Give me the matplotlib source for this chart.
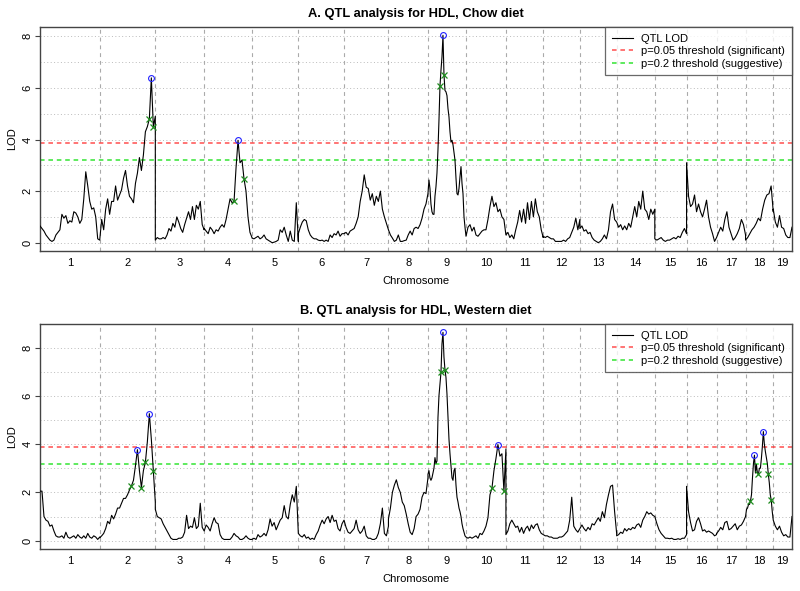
import numpy as np
import matplotlib
matplotlib.use("Agg")
import matplotlib.pyplot as plt
from matplotlib.lines import Line2D

plt.rcParams['font.family'] = ['Liberation Sans', 'DejaVu Sans']

# ---------------- data ----------------
chrom_names = [str(i) for i in range(1, 20)]
chrom_len_mb = [195.5, 182.1, 160.0, 156.5, 151.8, 149.7, 145.4, 129.4, 124.6,
                130.7, 122.1, 120.1, 120.4, 124.9, 104.0, 98.2, 95.0, 90.7, 61.4]

# LOD profile, chow diet (evenly spaced loci along each chromosome)
chow_01 = [0.65, 0.55, 0.45, 0.3, 0.2, 0.1, 0.05, 0.1, 0.3, 0.4, 0.5, 1.1, 0.95, 1.05, 0.75, 0.85,
           0.8, 1.2, 1.15, 1.0, 0.75, 0.9, 1.7, 2.75, 2.2, 1.6, 1.3, 1.35, 1.0, 0.15, 0.1]
chow_02 = [0.1, 0.9, 0.5, 1.3, 1.7, 1.1, 1.6, 1.6, 2.2, 1.65, 1.85, 2.05, 2.5, 2.8, 2.2, 1.8,
           1.7, 1.55, 2.3, 2.7, 3.3, 2.8, 3.4, 4.3, 4.5, 4.8, 6.39, 4.5, 4.9]
chow_03 = [0.1, 0.2, 0.15, 0.15, 0.2, 0.15, 0.3, 0.55, 0.45, 0.75, 0.6, 1.0, 0.8, 0.55, 0.4, 0.7,
           0.95, 1.2, 0.9, 1.4, 0.9, 1.45, 1.3, 1.6, 0.7, 0.5]
chow_04 = [0.55, 0.45, 0.35, 0.6, 0.5, 0.35, 0.5, 0.45, 0.6, 0.7, 0.6, 0.9, 1.3, 1.7, 1.55, 1.6,
           2.9, 3.97, 3.1, 3.2, 2.48, 2.0, 1.0, 0.4, 0.2]
chow_05 = [0.18, 0.15, 0.2, 0.25, 0.15, 0.2, 0.3, 0.15, 0.1, 0.05, 0.0, 0.02, 0.05, 0.1, 0.5, 0.4,
           0.6, 0.3, 0.05, 0.45, 0.1, 0.05, 1.55, 0.05]
chow_06 = [0.35, 0.6, 0.8, 0.9, 0.85, 0.5, 0.3, 0.2, 0.15, 0.15, 0.1, 0.08, 0.1, 0.05, 0.1, 0.05,
           0.3, 0.2, 0.35, 0.3, 0.45, 0.25, 0.35, 0.35]
chow_07 = [0.35, 0.4, 0.3, 0.45, 0.5, 0.55, 0.75, 1.0, 1.6, 2.0, 2.63, 2.15, 2.1, 1.65, 1.9, 1.45,
           1.8, 1.6, 2.0, 1.3, 1.0, 0.75, 0.5]
chow_08 = [0.5, 0.3, 0.18, 0.05, 0.1, 0.3, 0.05, 0.05, 0.08, 0.1, 0.3, 0.45, 0.3, 0.55, 0.6, 0.55,
           0.7, 0.95, 1.3, 1.5, 1.9]
chow_09 = [1.9, 2.43, 2.1, 1.5, 1.2, 1.1, 1.1, 1.8, 2.17, 2.7, 3.6, 4.75, 6.07, 6.68, 7.2, 8.04,
           6.51, 5.9, 5.85, 5.7, 5.2, 4.88, 4.3, 3.9, 3.97, 3.8, 3.5, 3.2, 2.5, 1.9, 1.85, 2.1,
           2.56, 2.95, 2.3, 1.9, 1.0, 0.6, 0.25]
chow_10 = [0.25, 0.6, 0.7, 0.45, 0.6, 0.3, 0.25, 0.35, 0.45, 0.5, 0.5, 0.9, 1.4, 1.8, 1.4, 1.55,
           1.2, 1.3, 1.0, 0.9, 0.3]
chow_11 = [0.3, 0.4, 0.2, 0.3, 0.15, 0.5, 0.8, 1.25, 0.8, 1.3, 0.75, 1.55, 0.9, 1.6, 1.0, 1.7,
           1.2, 1.0, 0.5, 0.2]
chow_12 = [0.25, 0.2, 0.25, 0.2, 0.15, 0.15, 0.05, 0.05, 0.05, 0.05, 0.1, 0.05, 0.15, 0.2, 0.4,
           0.6, 0.95, 0.5, 0.9]
chow_13 = [0.55, 0.65, 0.45, 0.5, 0.35, 0.4, 0.2, 0.1, 0.05, 0.0, 0.05, 0.15, 0.3, 0.15, 0.5,
           1.2, 1.5, 0.9, 0.8]
chow_14 = [0.8, 0.6, 0.7, 0.5, 0.65, 0.5, 0.75, 0.6, 1.0, 1.4, 1.0, 1.6, 1.3, 2.0, 1.3, 1.2,
           0.9, 1.3, 1.1, 1.3]
chow_15 = [0.15, 0.1, 0.15, 0.2, 0.1, 0.05, 0.1, 0.1, 0.15, 0.2, 0.15, 0.25, 0.2, 0.4, 0.55, 0.35]
chow_16 = [3.1, 1.8, 1.4, 1.5, 1.85, 1.2, 1.5, 1.2, 1.0, 1.3, 1.65, 1.0, 0.6, 0.35, 0.05, 0.2]
chow_17 = [0.2, 0.4, 0.6, 0.45, 0.9, 1.2, 0.6, 0.35, 0.1, 0.2, 0.35, 0.55, 0.9, 0.7, 0.3]
chow_18 = [0.1, 0.2, 0.35, 0.5, 0.6, 0.75, 0.95, 0.85, 1.3, 1.65, 1.85, 1.9, 2.2, 1.2]
chow_19 = [1.3, 0.8, 0.6, 1.05, 0.6, 0.55, 0.3, 0.2, 0.2, 0.6]

# LOD profile, western diet
west_01 = [2.05, 2.05, 1.0, 0.85, 0.8, 0.6, 0.65, 0.4, 0.2, 0.15, 0.15, 0.2, 0.1, 0.35, 0.15, 0.1,
           0.15, 0.2, 0.1, 0.25, 0.15, 0.1, 0.2, 0.1, 0.3, 0.15, 0.1, 0.2, 0.15, 0.05, 0.15]
west_02 = [0.12, 0.2, 0.3, 0.5, 0.8, 0.7, 1.05, 0.9, 1.1, 1.35, 1.35, 1.55, 1.75, 1.75, 1.9, 2.1,
           2.27, 2.5, 3.1, 3.77, 2.9, 2.2, 2.9, 3.24, 4.1, 5.26, 4.2, 2.87, 1.6]
west_03 = [1.3, 1.0, 0.95, 0.9, 0.7, 0.55, 0.4, 0.25, 0.1, 0.05, 0.05, 0.05, 0.1, 0.1, 0.15, 0.35,
           1.05, 0.5, 0.6, 0.55, 0.95, 0.5, 0.6, 1.55, 0.55, 0.4]
west_04 = [0.4, 0.65, 0.55, 0.4, 0.7, 0.95, 0.75, 0.7, 0.25, 0.1, 0.05, 0.05, 0.05, 0.05, 0.15,
           0.3, 0.2, 0.15, 0.05, 0.05, 0.1, 0.2, 0.1, 0.05, 0.05]
west_05 = [0.05, 0.1, 0.05, 0.25, 0.15, 0.2, 0.3, 0.2, 0.45, 0.9, 0.6, 0.75, 0.45, 0.65, 0.85,
           0.95, 1.45, 1.0, 0.9, 1.5, 1.9, 1.6, 2.25, 0.4]
west_06 = [0.3, 0.2, 0.15, 0.25, 0.1, 0.15, 0.05, 0.1, 0.05, 0.25, 0.4, 0.65, 0.85, 0.7, 0.9, 1.0,
           0.75, 1.05, 0.8, 0.85, 0.5, 0.4, 0.7, 0.85]
west_07 = [0.85, 0.55, 0.35, 0.3, 0.4, 0.5, 0.85, 0.45, 0.3, 0.4, 0.6, 0.2, 0.1, 0.1, 0.05, 0.05,
           0.1, 0.3, 0.7, 1.35, 0.3, 0.2, 0.6]
west_08 = [0.9, 1.35, 2.0, 2.3, 2.52, 2.2, 2.0, 1.6, 1.45, 1.1, 0.7, 0.35, 0.25, 0.5, 1.0, 1.1,
           1.3, 1.8, 2.0, 1.95, 2.6]
west_09 = [2.75, 2.9, 2.6, 2.5, 2.6, 2.8, 3.0, 3.44, 3.2, 3.3, 5.1, 6.0, 6.5, 6.97, 8.15, 8.63,
           7.6, 7.08, 6.76, 6.07, 5.1, 4.2, 3.6, 3.1, 2.6, 2.5, 2.9, 3.0, 2.3, 1.8, 1.6, 1.35,
           1.2, 1.0, 0.7, 0.5, 0.35, 0.2, 0.15]
west_10 = [0.15, 0.1, 0.15, 0.1, 0.15, 0.2, 0.1, 0.3, 0.25, 0.4, 0.6, 0.95, 1.9, 2.17, 2.9, 3.4,
           3.98, 3.5, 3.6, 2.05, 3.8]
west_11 = [0.25, 0.4, 0.7, 0.85, 0.7, 0.55, 0.6, 0.35, 0.55, 0.3, 0.5, 0.6, 0.4, 0.65, 0.5, 0.65,
           0.7, 0.45, 0.3, 0.25]
west_12 = [0.25, 0.2, 0.2, 0.15, 0.15, 0.1, 0.1, 0.1, 0.15, 0.15, 0.2, 0.3, 0.4, 0.85, 1.8, 0.6,
           0.45, 0.35, 0.5]
west_13 = [0.5, 0.65, 0.5, 0.4, 0.55, 0.45, 0.7, 0.65, 0.8, 0.95, 0.8, 1.2, 0.95, 1.5, 1.9, 2.25,
           2.3, 1.2, 0.3]
west_14 = [0.2, 0.25, 0.35, 0.3, 0.5, 0.4, 0.5, 0.45, 0.55, 0.5, 0.65, 0.7, 0.55, 0.85, 1.0, 1.2,
           1.1, 1.15, 1.05, 1.0]
west_15 = [1.0, 0.7, 0.45, 0.3, 0.2, 0.1, 0.1, 0.08, 0.1, 0.05, 0.05, 0.08, 0.05, 0.1, 0.1, 0.25]
west_16 = [2.25, 1.2, 0.75, 0.4, 0.45, 0.8, 0.95, 0.7, 0.4, 0.45, 0.35, 0.4, 0.35, 0.3, 0.2, 0.25]
west_17 = [0.3, 0.4, 0.55, 0.45, 0.75, 0.8, 0.45, 0.5, 0.6, 0.7, 0.45, 0.6, 0.65, 0.8, 1.0]
west_18 = [1.0, 1.3, 1.35, 1.5, 1.5, 1.65, 1.9, 2.6, 3.2, 3.54, 2.8, 3.15, 2.8, 2.75, 3.0, 3.0,
           3.4, 3.9, 4.52, 4.0, 3.7, 3.45, 3.2, 2.76, 2.4, 1.9, 1.67, 1.2, 0.85]
west_19 = [0.85, 0.6, 0.45, 0.6, 0.35, 0.2, 0.25, 0.15, 0.15, 1.0]

# peaks (blue circles) and interval bounds (green crosses): (chromosome, locus index)
chow_peaks = [(2, 26), (4, 17), (9, 15)]
chow_bounds = [(2, 25), (2, 27), (4, 15), (4, 20), (9, 12), (9, 16)]
west_peaks = [(2, 19), (2, 25), (9, 15), (10, 16), (18, 9), (18, 18)]
west_bounds = [(2, 16), (2, 21), (2, 23), (2, 27), (9, 13), (9, 17), (10, 13), (10, 19),
               (18, 5), (18, 13), (18, 23), (18, 26)]

thr_significant = 3.88
thr_suggestive = 3.19

chow_lod = [chow_01, chow_02, chow_03, chow_04, chow_05, chow_06, chow_07, chow_08, chow_09, chow_10,
            chow_11, chow_12, chow_13, chow_14, chow_15, chow_16, chow_17, chow_18, chow_19]
west_lod = [west_01, west_02, west_03, west_04, west_05, west_06, west_07, west_08, west_09, west_10,
            west_11, west_12, west_13, west_14, west_15, west_16, west_17, west_18, west_19]

# ---------------- plotting ----------------
offsets = np.concatenate([[0], np.cumsum(chrom_len_mb)])
total = offsets[-1]
mids = offsets[:-1] + np.array(chrom_len_mb) / 2


def chrom_positions(lod_list):
    return [offsets[k] + np.linspace(0, chrom_len_mb[k], len(v)) for k, v in enumerate(lod_list)]


fig = plt.figure(figsize=(8.0, 5.91), dpi=100)
axA = fig.add_axes([0.05, 0.5753, 0.94, 0.379])
axB = fig.add_axes([0.05, 0.0711, 0.94, 0.3807])

frame_col = '#444444'
red_c = '#FF3030'
green_c = '#10E010'
dash = (0, (3, 2.5))

for ax, lod, peaks, bounds, title in [
        (axA, chow_lod, chow_peaks, chow_bounds, 'A. QTL analysis for HDL, Chow diet'),
        (axB, west_lod, west_peaks, west_bounds, 'B. QTL analysis for HDL, Western diet')]:
    pos = chrom_positions(lod)
    x = np.concatenate(pos)
    y = np.concatenate([np.asarray(v, float) for v in lod])
    top = y.max()
    ax.set_xlim(0, total)
    ax.set_ylim(-0.04 * top, 1.04 * top)

    # grid
    for g in range(0, int(np.floor(top)) + 1):
        ax.axhline(g, color='#BBBBBB', lw=0.7, ls=(0, (1, 2.5)), zorder=1)
    for b in offsets[1:-1]:
        ax.axvline(b, color='#AAAAAA', lw=0.8, ls=(0, (3.5, 3.5)), zorder=1)

    ax.axhline(thr_significant, color=red_c, lw=1.1, ls=dash, alpha=0.85, zorder=2)
    ax.axhline(thr_suggestive, color=green_c, lw=1.1, ls=dash, alpha=0.85, zorder=2)

    ax.plot(x, y, color='black', lw=0.8, zorder=3)

    px = [pos[c - 1][i] for c, i in peaks]
    py = [lod[c - 1][i] for c, i in peaks]
    ax.plot(px, py, ls='none', marker='o', ms=4.2, mfc='none', mec='#2222FF', mew=0.8, zorder=4)
    bx = [pos[c - 1][i] for c, i in bounds]
    by = [lod[c - 1][i] for c, i in bounds]
    ax.plot(bx, by, ls='none', marker='x', ms=4.0, color='#1E8C1E', mew=0.9, zorder=4)

    ax.set_xticks(mids)
    ax.set_xticklabels(chrom_names)
    ax.tick_params(axis='x', length=0, pad=5, labelsize=8)
    ax.set_yticks([0, 2, 4, 6, 8])
    ax.tick_params(axis='y', length=3.5, width=0.8, pad=2, labelsize=8, labelrotation=90,
                   color=frame_col)
    for lab in ax.get_yticklabels():
        lab.set_va('center')
    for s in ax.spines.values():
        s.set_color(frame_col)
        s.set_linewidth(1.0)
    ax.set_xlabel('Chromosome', fontsize=8, labelpad=6)
    ax.set_ylabel('LOD', fontsize=8, labelpad=4)
    ax.set_title(title, fontsize=9.3, fontweight='bold', pad=7)

    handles = [Line2D([], [], color='black', lw=0.8),
               Line2D([], [], color=red_c, lw=1.1, ls=dash, alpha=0.85),
               Line2D([], [], color=green_c, lw=1.1, ls=dash, alpha=0.85)]
    leg = ax.legend(handles, ['QTL LOD', 'p=0.05 threshold (significant)',
                              'p=0.2 threshold (suggestive)'],
                    loc='upper right', fontsize=8, frameon=True, fancybox=False,
                    borderaxespad=0, handlelength=1.9, handletextpad=0.75,
                    labelspacing=0.22, borderpad=0.6)
    leg.get_frame().set_edgecolor(frame_col)
    leg.get_frame().set_linewidth(0.9)

fig.savefig('out.png', dpi=100)
